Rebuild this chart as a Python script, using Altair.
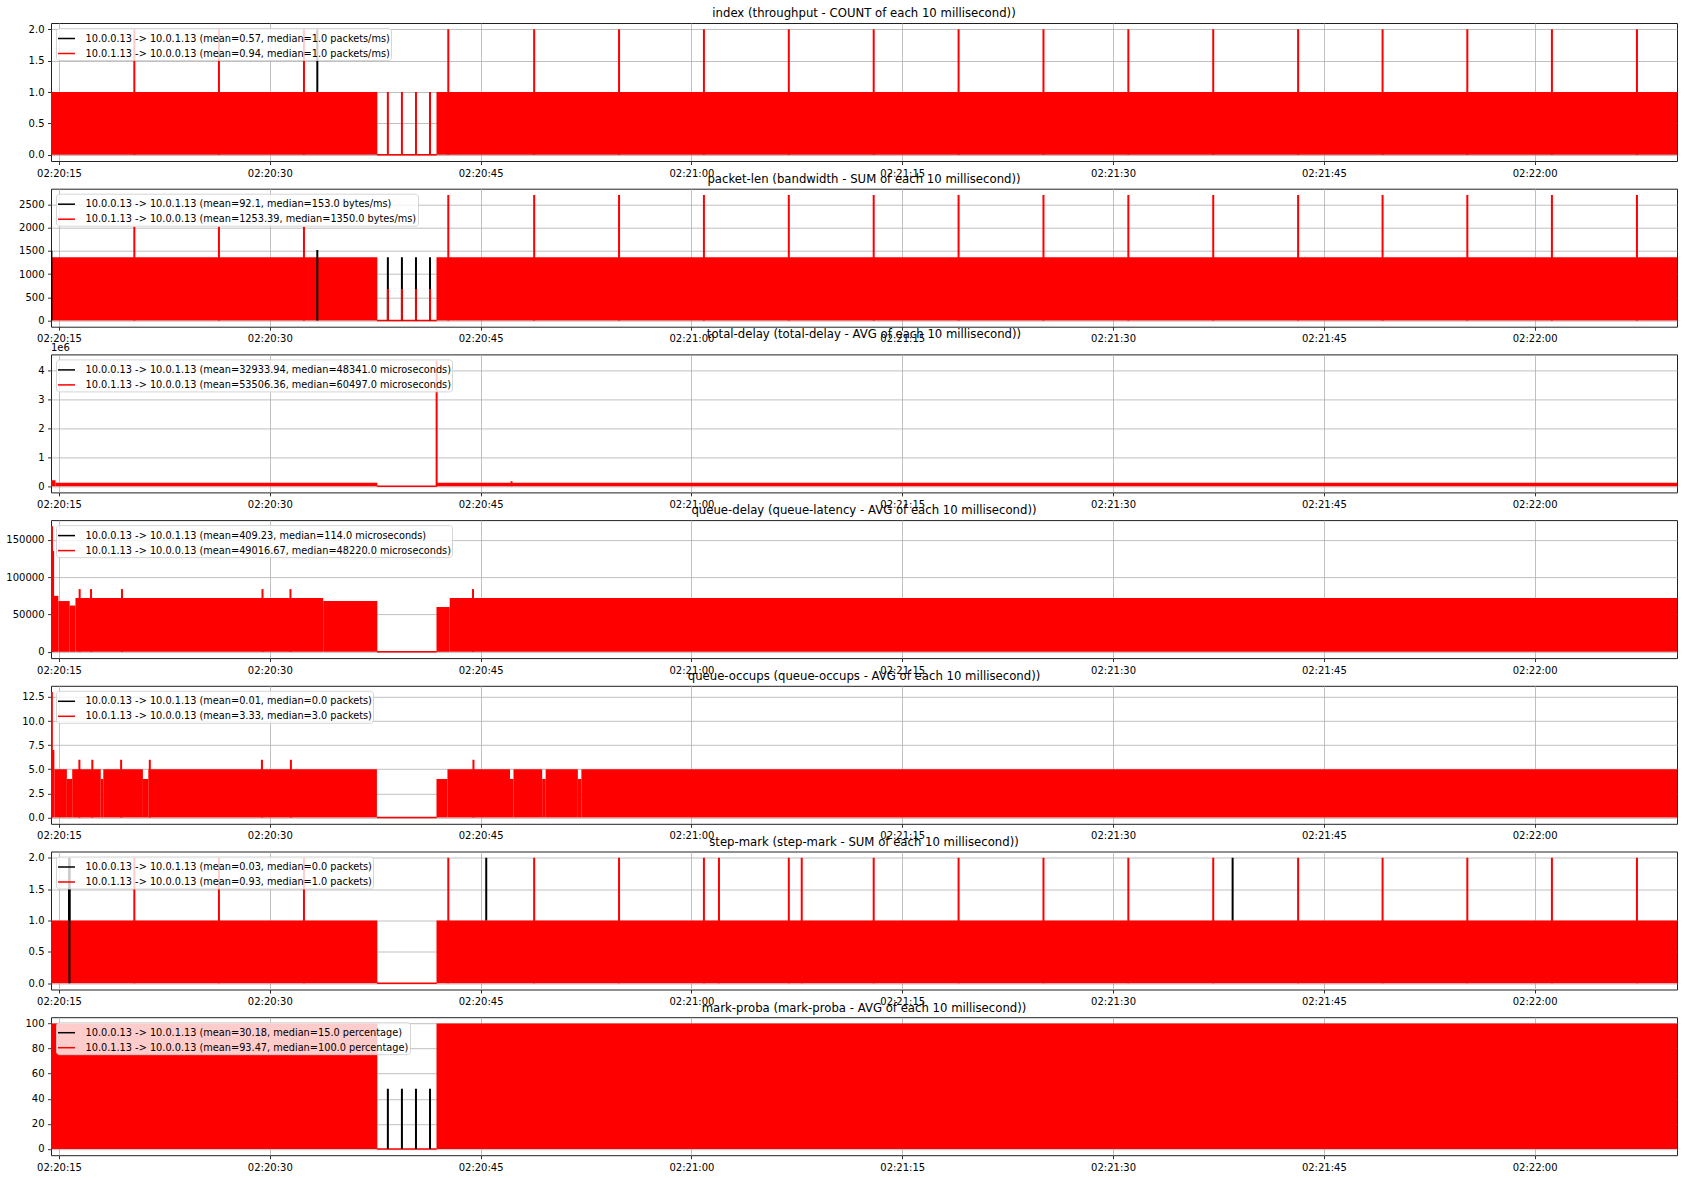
import altair as alt
import pandas as pd

# ---------------- data (times are seconds after 02:20:00) ----------------
T_FIRST, T_LAST = 14.43, 130.13
X_TICKS = [15, 30, 45, 60, 75, 90, 105, 120]

FLOW_A = "10.0.0.13 -> 10.0.1.13"   # black series
FLOW_B = "10.0.1.13 -> 10.0.0.13"   # red series

TITLES = [
    "index (throughput - COUNT of each 10 millisecond))",
    "packet-len (bandwidth - SUM of each 10 millisecond))",
    "total-delay (total-delay - AVG of each 10 millisecond))",
    "queue-delay (queue-latency - AVG of each 10 millisecond))",
    "queue-occups (queue-occups - AVG of each 10 millisecond))",
    "step-mark (step-mark - SUM of each 10 millisecond))",
    "mark-proba (mark-proba - AVG of each 10 millisecond))",
]
STATS_A = [
    "(mean=0.57, median=1.0 packets/ms)",
    "(mean=92.1, median=153.0 bytes/ms)",
    "(mean=32933.94, median=48341.0 microseconds)",
    "(mean=409.23, median=114.0 microseconds)",
    "(mean=0.01, median=0.0 packets)",
    "(mean=0.03, median=0.0 packets)",
    "(mean=30.18, median=15.0 percentage)",
]
STATS_B = [
    "(mean=0.94, median=1.0 packets/ms)",
    "(mean=1253.39, median=1350.0 bytes/ms)",
    "(mean=53506.36, median=60497.0 microseconds)",
    "(mean=49016.67, median=48220.0 microseconds)",
    "(mean=3.33, median=3.0 packets)",
    "(mean=0.93, median=1.0 packets)",
    "(mean=93.47, median=100.0 percentage)",
]
Y_TICKS = [
    [0, 0.5, 1.0, 1.5, 2.0],
    [0, 500, 1000, 1500, 2000, 2500],
    [0, 1e6, 2e6, 3e6, 4e6],
    [0, 50000, 100000, 150000],
    [0, 2.5, 5.0, 7.5, 10.0, 12.5],
    [0, 0.5, 1.0, 1.5, 2.0],
    [0, 20, 40, 60, 80, 100],
]
Y_FORMATS = [".1f", "d", "d", "d", ".1f", ".1f", "d"]
OFFSET_TEXT = ["", "", "1e6", "", "", "", ""]
OFFSET_SCALE = [1, 1, 1e6, 1, 1, 1, 1]

# dense 10 ms series drawn as filled envelopes: (start, end, low, high, flow)
INDEX_BLOCKS = [(14.43, 37.65, 0, 1.0, "B"), (41.86, 130.13, 0, 1.0, "B")]
INDEX_SPIKES = [  # (time, low, high, flow)
    (33.38, 1.0, 2.0, "A"),
    (20.36, 0, 2.0, "B"), (26.38, 0, 2.0, "B"), (32.43, 0, 2.0, "B"),
    (42.70, 0, 2.0, "B"), (48.81, 0, 2.0, "B"), (54.85, 0, 2.0, "B"),
    (60.89, 0, 2.0, "B"), (66.93, 0, 2.0, "B"), (72.97, 0, 2.0, "B"),
    (79.01, 0, 2.0, "B"), (85.05, 0, 2.0, "B"), (91.09, 0, 2.0, "B"),
    (97.13, 0, 2.0, "B"), (103.17, 0, 2.0, "B"), (109.18, 0, 2.0, "B"),
    (115.21, 0, 2.0, "B"), (121.23, 0, 2.0, "B"), (127.28, 0, 2.0, "B"),
    (38.40, 0, 1.0, "B"), (39.40, 0, 1.0, "B"), (40.40, 0, 1.0, "B"), (41.40, 0, 1.0, "B"),
]
LEN_BLOCKS = [(14.43, 37.65, 0, 1360, "B"), (41.86, 130.13, 0, 1360, "B")]
LEN_SPIKES = [
    (14.46, 0, 1500, "A"), (33.38, 0, 1520, "A"),
    (38.40, 0, 1360, "A"), (39.40, 0, 1360, "A"), (40.40, 0, 1360, "A"), (41.40, 0, 1360, "A"),
    (20.36, 0, 2020, "B"), (26.38, 0, 2020, "B"), (32.43, 0, 2020, "B"),
    (42.70, 0, 2705, "B"), (48.81, 0, 2705, "B"), (54.85, 0, 2705, "B"),
    (60.89, 0, 2705, "B"), (66.93, 0, 2705, "B"), (72.97, 0, 2705, "B"),
    (79.01, 0, 2705, "B"), (85.05, 0, 2705, "B"), (91.09, 0, 2705, "B"),
    (97.13, 0, 2705, "B"), (103.17, 0, 2705, "B"), (109.18, 0, 2705, "B"),
    (115.21, 0, 2705, "B"), (121.23, 0, 2705, "B"), (127.28, 0, 2705, "B"),
    (38.40, 0, 680, "B"), (39.40, 0, 680, "B"), (40.40, 0, 680, "B"), (41.40, 0, 680, "B"),
]
DELAY_BLOCKS = [(14.43, 14.75, 0, 200000, "B"), (14.75, 37.65, 0, 115000, "B"),
                (41.86, 130.13, 0, 115000, "B")]
DELAY_SPIKES = [(41.87, 0, 4330000, "B"), (47.20, 0, 170000, "B")]
QDELAY_BLOCKS = [
    (14.43, 14.62, 0, 95000, "B"), (14.62, 14.95, 0, 75000, "B"),
    (14.95, 15.76, 0, 68000, "B"), (15.76, 16.17, 0, 62000, "B"),
    (16.17, 33.80, 0, 72000, "B"), (33.80, 37.65, 0, 68000, "B"),
    (41.86, 42.80, 0, 60000, "B"), (42.80, 130.13, 0, 72000, "B"),
]
QDELAY_SPIKES = [
    (14.50, 0, 168000, "B"), (14.58, 0, 135000, "B"),
    (16.47, 0, 84000, "B"), (17.28, 0, 84000, "B"), (19.48, 0, 84000, "B"),
    (29.48, 0, 84000, "B"), (31.47, 0, 84000, "B"), (44.46, 0, 84000, "B"),
]
QOCC_BLOCKS = [
    (14.43, 14.67, 0, 7.0, "B"), (14.67, 15.56, 0, 5.0, "B"), (15.56, 15.94, 0, 4.0, "B"),
    (15.94, 17.97, 0, 5.0, "B"), (17.97, 18.15, 0, 4.0, "B"), (18.15, 20.97, 0, 5.0, "B"),
    (20.97, 21.36, 0, 4.0, "B"), (21.36, 37.62, 0, 5.0, "B"),
    (41.86, 42.64, 0, 4.0, "B"), (42.64, 47.09, 0, 5.0, "B"), (47.09, 47.34, 0, 4.0, "B"),
    (47.34, 49.38, 0, 5.0, "B"), (49.38, 49.63, 0, 4.0, "B"), (49.63, 51.92, 0, 5.0, "B"),
    (51.92, 52.17, 0, 4.0, "B"), (52.17, 130.13, 0, 5.0, "B"),
]
QOCC_SPIKES = [
    (14.49, 0, 13.0, "B"), (16.45, 0, 6.0, "B"), (17.37, 0, 6.0, "B"), (19.42, 0, 6.0, "B"),
    (21.46, 0, 6.0, "B"), (29.44, 0, 6.0, "B"), (31.50, 0, 6.0, "B"), (44.49, 0, 6.0, "B"),
]
STEP_BLOCKS = [(14.43, 37.65, 0, 1.0, "B"), (41.86, 130.13, 0, 1.0, "B"),
               (15.64, 15.82, 1.0, 2.0, "A")]
STEP_SPIKES = [
    (15.74, 0, 2.0, "A"), (45.40, 1.0, 2.0, "A"), (98.51, 1.0, 2.0, "A"),
    (20.36, 0, 2.0, "B"), (26.38, 0, 2.0, "B"), (32.43, 0, 2.0, "B"),
    (42.70, 0, 2.0, "B"), (48.81, 0, 2.0, "B"), (54.85, 0, 2.0, "B"),
    (60.89, 0, 2.0, "B"), (61.96, 0, 2.0, "B"), (66.93, 0, 2.0, "B"),
    (67.85, 0, 2.0, "B"), (72.97, 0, 2.0, "B"),
    (79.01, 0, 2.0, "B"), (85.05, 0, 2.0, "B"), (91.09, 0, 2.0, "B"),
    (97.13, 0, 2.0, "B"), (103.17, 0, 2.0, "B"), (109.18, 0, 2.0, "B"),
    (115.21, 0, 2.0, "B"), (121.23, 0, 2.0, "B"), (127.28, 0, 2.0, "B"),
]
PROBA_BLOCKS = [(14.43, 37.65, 0, 100, "B"), (41.86, 130.13, 0, 100, "B")]
PROBA_SPIKES = [(38.40, 0, 48, "A"), (39.40, 0, 48, "A"), (40.40, 0, 48, "A"), (41.40, 0, 48, "A")]

GAP_FLOOR = [(37.62, 41.88, 0)]  # red series sits at 0 during the outage

ALL_BLOCKS = [INDEX_BLOCKS, LEN_BLOCKS, DELAY_BLOCKS, QDELAY_BLOCKS,
              QOCC_BLOCKS, STEP_BLOCKS, PROBA_BLOCKS]
ALL_SPIKES = [INDEX_SPIKES, LEN_SPIKES, DELAY_SPIKES, QDELAY_SPIKES,
              QOCC_SPIKES, STEP_SPIKES, PROBA_SPIKES]

# ---------------- chart ----------------
FONT = "DejaVu Sans"
PLOT_W, PLOT_H = 1626, 138
COLORS = {"A": "black", "B": "red"}

X_LABEL = ("'02:' + (20 + floor(datum.value / 60)) + ':' + "
           "((datum.value % 60) < 10 ? '0' : '') + (datum.value % 60)")


def panel(i):
    la = f"{FLOW_A} {STATS_A[i]}"
    lb = f"{FLOW_B} {STATS_B[i]}"
    names = {"A": la, "B": lb}
    bdf = pd.DataFrame(ALL_BLOCKS[i], columns=["t0", "t1", "lo", "hi", "flow"])
    sdf = pd.DataFrame(ALL_SPIKES[i], columns=["t", "lo", "hi", "flow"])
    sdf["series"] = sdf["flow"].map(names)
    fdf = pd.DataFrame(GAP_FLOOR, columns=["t0", "t1", "v"])

    top = max(bdf["hi"].max(), sdf["hi"].max())
    yscale = alt.Scale(domain=[-0.05 * top, 1.05 * top], nice=False, zero=False)
    xscale = alt.Scale(domain=[T_FIRST, T_LAST], nice=False, zero=False)
    cscale = alt.Scale(domain=[la, lb], range=["black", "red"])

    k = OFFSET_SCALE[i]
    if k != 1:
        yaxis = alt.Axis(values=Y_TICKS[i], labelExpr=f"format(datum.value / {k}, 'd')",
                         labelOverlap=False)
    else:
        yaxis = alt.Axis(values=Y_TICKS[i], format=Y_FORMATS[i], labelOverlap=False)
    xaxis = alt.Axis(values=X_TICKS, labelExpr=X_LABEL, labelOverlap=False)

    def X(field):
        return alt.X(field, scale=xscale, axis=xaxis, title=None)

    def Y(field):
        return alt.Y(field, scale=yscale, axis=yaxis, title=None)

    floor = alt.Chart(fdf).mark_rule(color="red", strokeWidth=1.5).encode(
        x=X("t0:Q"), x2="t1:Q", y=Y("v:Q"),
    )
    layers = [floor]
    for flow in ["B", "A"]:
        part = bdf[bdf["flow"] == flow]
        if len(part):
            layers.append(
                alt.Chart(part).mark_rect(color=COLORS[flow], clip=True).encode(
                    x=X("t0:Q"), x2="t1:Q", y=Y("lo:Q"), y2="hi:Q"
                )
            )
    spikes = alt.Chart(sdf).mark_rule(strokeWidth=2, clip=True).encode(
        x=X("t:Q"), y=Y("lo:Q"), y2="hi:Q",
        color=alt.Color(
            "series:N", scale=cscale, title=None,
            legend=alt.Legend(orient="top-left", symbolType="stroke"),
        ),
    )
    layers.append(spikes)
    if OFFSET_TEXT[i]:
        tdf = pd.DataFrame({"label": [OFFSET_TEXT[i]]})
        layers.append(
            alt.Chart(tdf).mark_text(align="left", baseline="alphabetic", font=FONT,
                                     fontSize=10, color="black").encode(
                text="label:N", x=alt.value(0), y=alt.value(-3)
            )
        )
    return alt.layer(*layers).properties(
        width=PLOT_W, height=PLOT_H,
        title=alt.TitleParams(TITLES[i], fontSize=11.7, font=FONT, fontWeight="normal",
                              color="black", anchor="middle", frame="group", offset=3),
    )


chart = alt.vconcat(*[panel(i) for i in range(7)], spacing=27.7, bounds="flush").resolve_scale(
    color="independent", x="independent", y="independent"
).resolve_legend(color="independent").properties(
    padding={"left": 5, "top": 7, "right": 7, "bottom": 3},
    background="white",
).configure_view(
    stroke="#222222", strokeWidth=1
).configure_axis(
    labelFont=FONT, labelFontSize=10, labelColor="black",
    tickColor="black", tickSize=3.5, tickWidth=0.8,
    gridColor="#b0b0b0", gridWidth=0.8, domain=False,
    labelPadding=3.5, labelOverlap=False,
).configure_legend(
    labelFont=FONT, labelFontSize=9.75, labelColor="black", labelLimit=600,
    fillColor="rgba(255,255,255,0.8)", strokeColor="rgba(204,204,204,0.8)",
    cornerRadius=3, padding=1, offset=5, rowPadding=-2,
    symbolSize=289, symbolStrokeWidth=1.5, labelOffset=9.5,
)

chart.save("out.html", embed_options={"renderer": "svg", "actions": False})
